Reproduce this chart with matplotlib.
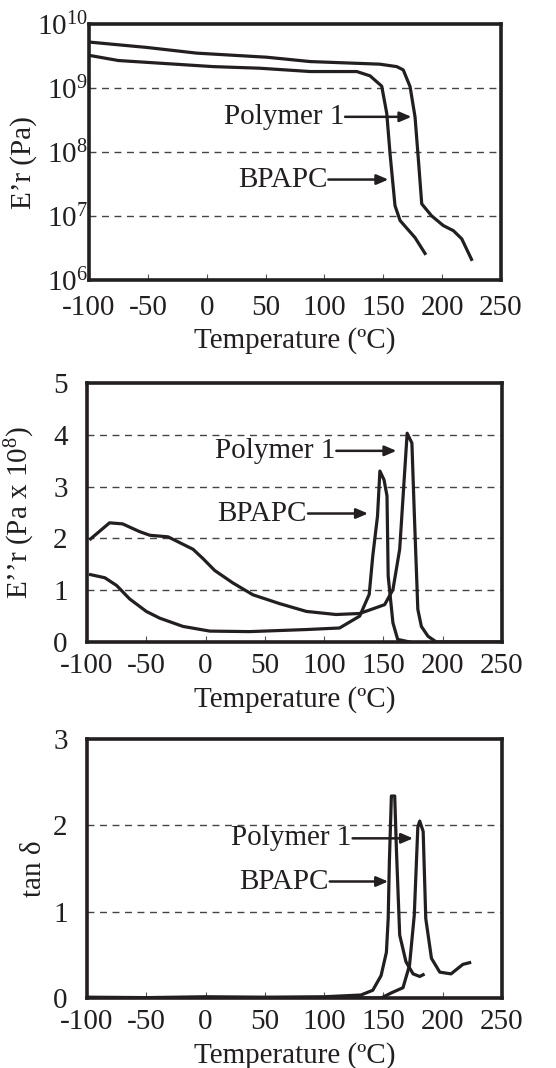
import matplotlib
matplotlib.use("Agg")
import matplotlib.pyplot as plt
import numpy as np

# ---------------- data ----------------
# Panel 1: storage modulus E'r (Pa)
p1_poly_T = [-99, -51, -8.5, 51, 88, 147, 161.5, 167, 172.8, 177, 179.9, 182.7, 191, 201, 209.6, 216.7, 225]
p1_poly_E = [5.21e9, 4.31e9, 3.51e9, 3.03e9, 2.59e9, 2.36e9, 2.16e9, 1.92e9, 1.05e9, 3.55e8, 7.4e7,
             1.55e7, 1.01e7, 7.1e6, 5.9e6, 4.4e6, 2.1e6]
p1_bpa_T = [-99, -75, 5.7, 45, 88, 127.5, 138.8, 148.7, 153, 155.8, 160, 164.3, 177, 185.5]
p1_bpa_E = [3.22e9, 2.69e9, 2.16e9, 2.04e9, 1.81e9, 1.81e9, 1.55e9, 1.07e9, 4.0e8, 9.3e7, 1.45e7,
            8.5e6, 4.6e6, 2.6e6]

# Panel 2: loss modulus E''r (Pa x 10^8)
p2_poly_T = [-97, -81, -70, -55.6, -47, -31.7, -10.6, -2.2, 7.7, 23, 40, 62.5, 85, 110, 130, 151, 158,
             163.7, 170, 174, 176, 179, 182, 187.6, 194.6, 250]
p2_poly_E = [1.99, 2.30, 2.28, 2.13, 2.06, 2.03, 1.79, 1.61, 1.38, 1.14, 0.91, 0.74, 0.59, 0.53, 0.55,
             0.72, 1.01, 1.79, 4.03, 3.84, 2.5, 0.63, 0.30, 0.11, 0.0, 0.0]
p2_bpa_T = [-97, -85, -75, -64, -50, -38.7, -19, 3.5, 37, 85, 113, 130, 138, 141, 145, 147, 150.5, 153,
            154, 158, 162, 172]
p2_bpa_E = [1.30, 1.24, 1.09, 0.83, 0.59, 0.46, 0.30, 0.21, 0.20, 0.24, 0.27, 0.50, 0.92, 1.66, 2.43,
            3.30, 3.13, 2.82, 1.27, 0.37, 0.05, 0.0]

# Panel 3: tan delta
p3_bpa_T = [-99, -50, 0, 50, 100, 131, 141, 148, 152.5, 154, 155, 156.7, 159.5, 161, 163.7, 169, 175,
            180.6, 183.5]
p3_bpa_D = [0.01, 0.005, 0.015, 0.01, 0.015, 0.035, 0.09, 0.26, 0.53, 0.92, 1.58, 2.34, 2.34, 1.70,
            0.73, 0.42, 0.28, 0.25, 0.27]
p3_poly_T = [-99, 0, 100, 148, 156.7, 166.5, 172, 176, 179, 180.6, 183.5, 185.7, 190.5, 197.5, 207,
             217, 222.7]
p3_poly_D = [0.0, 0.005, 0.005, 0.0, 0.06, 0.12, 0.38, 0.96, 1.98, 2.05, 1.93, 0.92, 0.46, 0.30, 0.28,
             0.39, 0.41]

x_ticks = [-100, -50, 0, 50, 100, 150, 200, 250]

# ---------------- style ----------------
plt.rcParams['font.family'] = ['Liberation Serif', 'DejaVu Serif']
plt.rcParams['mathtext.fontset'] = 'custom'
plt.rcParams['mathtext.rm'] = 'Liberation Serif'
plt.rcParams['mathtext.it'] = 'Liberation Serif:italic'

FS = 21
LC = '#231f20'
LW = 2.3

fig = plt.figure(figsize=(5.56, 10.68), dpi=100)


def style(ax, ypad, xpad=8):
    for s in ax.spines.values():
        s.set_linewidth(2.6)
        s.set_color(LC)
    ax.set_xlim(-100, 250)
    ax.set_xticks(x_ticks)
    ax.set_xticklabels([str(t) for t in x_ticks], fontsize=FS)
    ax.tick_params(axis='x', direction='in', length=4, width=0.8, color='#555555', pad=xpad,
                   labelcolor=LC)
    ax.tick_params(axis='y', length=0, pad=ypad, labelsize=FS, labelcolor=LC)
    ax.set_xlabel('Temperature (ºC)', fontsize=FS, color=LC)


def grid(ax, vals):
    for v in vals:
        ax.axhline(v, color='#444444', lw=1.0, ls=(0, (5, 4)), zorder=1)


def arrow(ax, text, x0, x1, y):
    ax.annotate('', xy=(x1, y), xytext=(x0, y),
                arrowprops=dict(arrowstyle='-|>,head_length=0.7,head_width=0.3', lw=1.8, color=LC,
                                shrinkA=0, shrinkB=0), zorder=5)
    ax.text(x0 - 1, y, text, ha='right', va='center', fontsize=FS, color=LC, zorder=5)


# Panel 1
ax1 = fig.add_axes([0.160, 0.7378, 0.741, 0.2397])
ax1.set_yscale('log')
ax1.set_ylim(1e6, 1e10)
grid(ax1, [1e7, 1e8, 1e9])
ax1.plot(p1_poly_T, p1_poly_E, color=LC, lw=LW, zorder=3)
ax1.plot(p1_bpa_T, p1_bpa_E, color=LC, lw=LW, zorder=3)
ax1.set_yticks([1e6, 1e7, 1e8, 1e9, 1e10])
ax1.set_yticklabels([r'$10^{6}$', r'$10^{7}$', r'$10^{8}$', r'$10^{9}$', r'$10^{10}$'])
ax1.yaxis.set_minor_locator(matplotlib.ticker.NullLocator())
style(ax1, 1, xpad=11)
ax1.set_ylabel('E’r (Pa)', fontsize=FS, color=LC)
arrow(ax1, 'Polymer 1', 117.6, 174, 10 ** 8.55)
arrow(ax1, 'BPAPC', 103.4, 154.4, 10 ** 7.57)
ax1.yaxis.set_label_coords(-0.126, 0.457)
ax1.xaxis.set_label_coords(0.5, -0.185)

# Panel 2
ax2 = fig.add_axes([0.1565, 0.3989, 0.7464, 0.2425])
ax2.set_ylim(0, 5)
grid(ax2, [1, 2, 3, 4])
ax2.plot(p2_poly_T, p2_poly_E, color=LC, lw=LW, zorder=3)
ax2.plot(p2_bpa_T, p2_bpa_E, color=LC, lw=LW, zorder=3)
ax2.set_yticks([0, 1, 2, 3, 4, 5])
style(ax2, 14)
ax2.set_ylabel('E’’r (Pa x 10$^{8}$)', fontsize=FS, color=LC)
arrow(ax2, 'Polymer 1', 110.3, 161, 3.69)
arrow(ax2, 'BPAPC', 86.4, 137, 2.48)
ax2.yaxis.set_label_coords(-0.12, 0.5)
ax2.xaxis.set_label_coords(0.5, -0.17)

# Panel 3
ax3 = fig.add_axes([0.1565, 0.0655, 0.7464, 0.2425])
ax3.set_ylim(0, 3)
grid(ax3, [1, 2])
ax3.plot(p3_poly_T, p3_poly_D, color=LC, lw=LW, zorder=3)
ax3.plot(p3_bpa_T, p3_bpa_D, color=LC, lw=LW, zorder=3)
ax3.set_yticks([0, 1, 2, 3])
style(ax3, 14)
ax3.set_ylabel('tan δ', fontsize=FS, color=LC)
arrow(ax3, 'Polymer 1', 124, 175, 1.85)
arrow(ax3, 'BPAPC', 104.7, 154, 1.35)
ax3.yaxis.set_label_coords(-0.096, 0.5)
ax3.xaxis.set_label_coords(0.5, -0.17)

fig.savefig('out.png', dpi=100)
